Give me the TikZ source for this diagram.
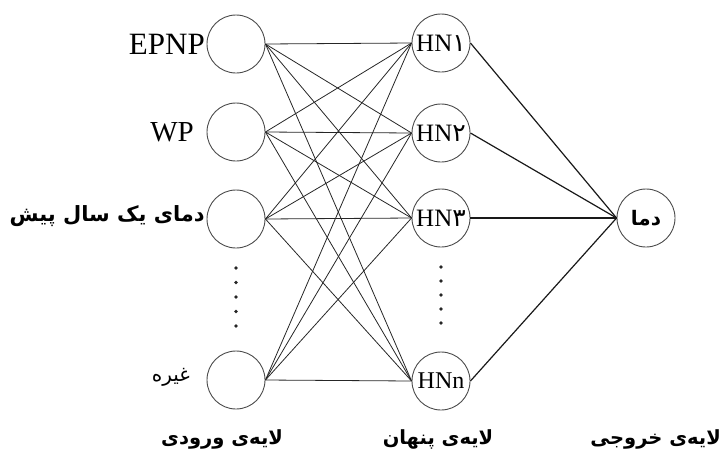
\documentclass[tikz,border=0pt]{standalone}
\usepackage{fontspec}
\setmainfont{Liberation Serif}
\newfontfamily\arabicfont[Script=Arabic]{DejaVu Sans}
\TeXXeTstate=1
\begin{document}
\begin{tikzpicture}[x=1pt,y=-1pt,
  neuron/.style={circle,draw=black!70,line width=0.9pt,minimum size=58pt,inner sep=0pt},
  lbl/.style={inner sep=0pt},
  thinlink/.style={draw=black!85,line width=0.8pt},
  thicklink/.style={draw=black!90,line width=1.2pt},
  dotmark/.style={circle,fill=black!85,minimum size=3.8pt,inner sep=0pt}]
\useasboundingbox (0,0) rectangle (722,453);
% input layer
\node[neuron] (i1) at (236,44) {};
\node[neuron] (i2) at (236,132) {};
\node[neuron] (i3) at (236,219) {};
\node[neuron] (i4) at (236,380) {};
% hidden layer
\node[neuron] (h1) at (441,43) {\fontsize{25}{27}\selectfont HN{\arabicfont ۱}};
\node[neuron] (h2) at (441,133) {\fontsize{25}{27}\selectfont HN{\arabicfont ۲}};
\node[neuron] (h3) at (441,218) {\fontsize{25}{27}\selectfont HN{\arabicfont ۳}};
\node[neuron] (h4) at (441,381) {\fontsize{24}{26}\selectfont HNn};
% output
\node[neuron] (o) at (646,218) {\fontsize{20}{22}\selectfont\arabicfont\bfseries\beginR دما\endR};
% input labels
\node[lbl,anchor=east] (l1) at (205,44) {\fontsize{31}{34}\selectfont EPNP};
\node[lbl,anchor=east] (l2) at (194,132) {\fontsize{29}{32}\selectfont WP};
\node[lbl,anchor=east] (l3) at (205,216) {\fontsize{21}{24}\selectfont\arabicfont\bfseries\beginR دمای یک سال پیش\endR};
\node[lbl,anchor=east] (l4) at (190,377) {\fontsize{20}{22}\selectfont\arabicfont\beginR غیره\endR};
% layer labels
\node[lbl] (t1) at (222,439) {\fontsize{19.5}{22}\selectfont\arabicfont\bfseries\beginR لایه‌ی ورودی\endR};
\node[lbl] (t2) at (438,439) {\fontsize{19.5}{22}\selectfont\arabicfont\bfseries\beginR لایه‌ی پنهان\endR};
\node[lbl,anchor=east] (t3) at (721,439) {\fontsize{19.5}{22}\selectfont\arabicfont\bfseries\beginR لایه‌ی خروجی\endR};
% dots
\foreach \k in {0,...,4} {
  \node[dotmark] (di\k) at (236,268+14.5*\k) {};
  \node[dotmark] (dh\k) at (441,267+14*\k) {};
}
% links input -> hidden
\foreach \a in {i1,i2,i3,i4} {
  \foreach \b in {h1,h2,h3,h4} {
    \draw[thinlink] (\a.east) -- (\b.west);
  }
}
% links hidden -> output
\foreach \b in {h1,h2,h3,h4} {
  \draw[thicklink] (\b.east) -- (o.west);
}
\end{tikzpicture}
\end{document}
